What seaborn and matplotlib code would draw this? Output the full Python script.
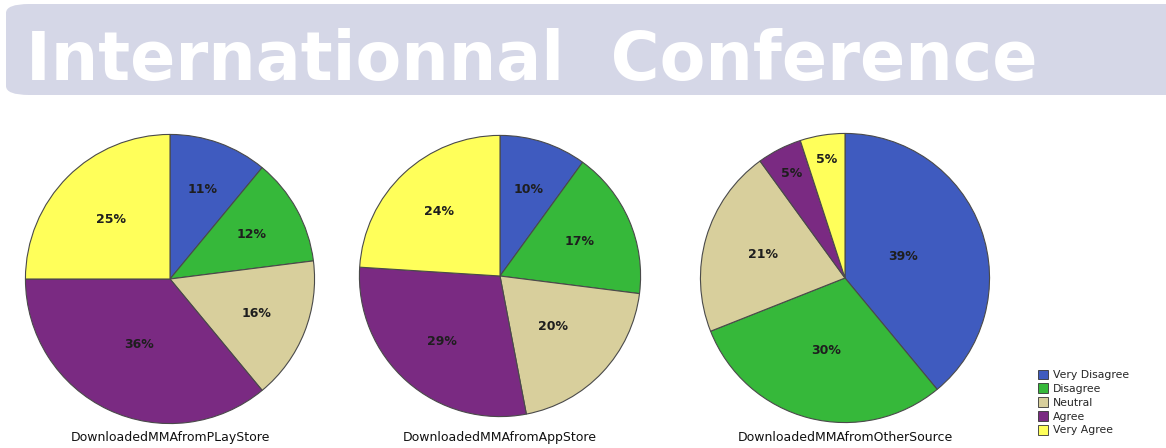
import matplotlib
matplotlib.use("Agg")
import numpy as np
import matplotlib.pyplot as plt
from matplotlib.patches import FancyBboxPatch, Patch
import seaborn as sns

sns.set_theme(style="white")

# Survey response categories and colours
categories = ["Very Disagree", "Disagree", "Neutral", "Agree", "Very Agree"]
colors = ["#3F5BBF", "#36B83A", "#D8CF9C", "#7A2A82", "#FFFF5A"]

# Share of answers (%) per download source
playstore = [11, 12, 16, 36, 25]
appstore = [10, 17, 20, 29, 24]
othersource = [39, 30, 21, 5, 5]

titles = ["DownloadedMMAfromPLayStore", "DownloadedMMAfromAppStore",
          "DownloadedMMAfromOtherSource"]
banner_text = "Internationnal  Conference"

palette = sns.color_palette(colors)

W, H = 1166, 448
fig = plt.figure(figsize=(W / 100, H / 100), dpi=100)
fig.patch.set_facecolor("white")

# Banner
banner = FancyBboxPatch((6 / W, (H - 95) / H), (W + 20) / W, 91 / H,
                        boxstyle="round,pad=0,rounding_size=0.02",
                        transform=fig.transFigure, facecolor="#D5D7E7",
                        edgecolor="none", zorder=0)
fig.patches.append(banner)
fig.text(26 / W, (H - 80) / H, banner_text, fontsize=48, fontweight="bold",
         color="white", ha="left", va="baseline")

# Pie geometry in pixels: (centre x, centre y from top, radius)
geoms = [(170, 279, 146), (500, 276, 142), (845, 278, 146)]
datasets = [playstore, appstore, othersource]
# radial placement of the percentage labels (fraction of radius)
label_radius = [[0.66, 0.64, 0.64, 0.50, 0.58],
                [0.65, 0.62, 0.52, 0.62, 0.63],
                [0.43, 0.52, 0.59, 0.81, 0.83]]

for (cx, cy, r), vals, title, lr in zip(geoms, datasets, titles, label_radius):
    ax = fig.add_axes([(cx - r) / W, (H - cy - r) / H, 2 * r / W, 2 * r / H])
    wedges, texts, autotexts = ax.pie(
        vals, colors=palette, startangle=90, counterclock=False,
        autopct=lambda p: f"{p:.0f}%", pctdistance=0.64,
        wedgeprops=dict(edgecolor="#4a4a4a", linewidth=0.8),
        textprops=dict(fontsize=9, fontweight="bold", color="#1e1e1e"))
    for w, t, d in zip(wedges, autotexts, lr):
        th = np.deg2rad((w.theta1 + w.theta2) / 2)
        t.set_position((d * np.cos(th), d * np.sin(th)))
    ax.set_xlim(-1.01, 1.01)
    ax.set_ylim(-1.01, 1.01)
    ax.set_aspect("equal")
    ax.axis("off")
    fig.text(cx / W, (H - 437) / H, title, fontsize=9,
             ha="center", va="center", color="#111111")

handles = [Patch(facecolor=c, edgecolor="#333333", linewidth=0.6) for c in palette]
fig.legend(handles, categories, loc="upper left",
           bbox_to_anchor=(1030 / W, (H - 362) / H), frameon=False,
           fontsize=7.8, handlelength=1.0, handleheight=1.0, handletextpad=0.4,
           labelspacing=0.3, borderpad=0.2)

fig.savefig("out.png", dpi=100, facecolor="white")
